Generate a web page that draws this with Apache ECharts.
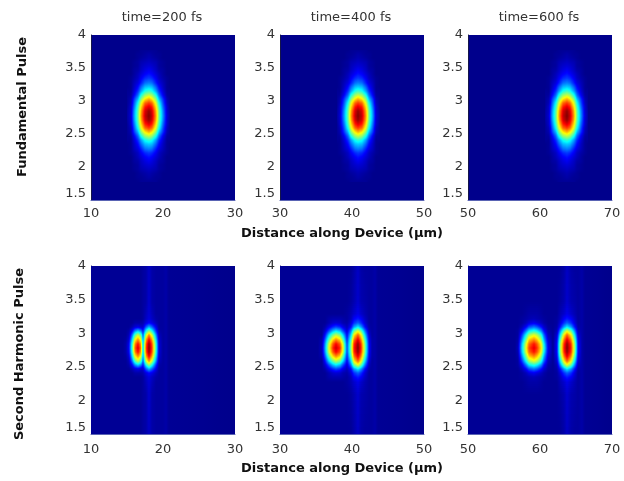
<!DOCTYPE html>
<html><head><meta charset="utf-8">
<style>html,body{margin:0;padding:0;background:#fff}#c{width:624px;height:481px}</style>
<script src="https://cdn.jsdelivr.net/npm/echarts@6/dist/echarts.min.js"></script>
</head><body><div id="c"></div>
<script>
const panelTitles = ['time=200 fs','time=400 fs','time=600 fs'];
const xLimits = [[10,30],[30,50],[50,70]];
const yTicks = [1.5,2,2.5,3,3.5,4];
const rowLabels = ['Fundamental Pulse','Second Harmonic Pulse'];
const xAxisLabel = 'Distance along Device (\u00b5m)';

// Jet colour scale, evenly spaced from 0 to 100
const jetStops = ['#00008c','#0000ff','#0080ff','#00ffff','#80ff80','#ffff00','#ff8000','#ff0000','#800000'];

// Fundamental pulse: intensity (0-100), same blob in all three panels
const fundamentalCentres = [18, 40.9, 63.7];
const fundamentalOffsets = [-3,-2.5,-2,-1.5,-1,-0.5,0,0.5,1,1.5,2,2.5,3];
const fundamentalYs = [1.78,1.8425,1.905,1.9675,2.03,2.0925,2.155,2.2175,2.28,2.3425,2.405,2.4675,2.53,2.5925,2.655,2.7175,2.78,2.8425,2.905,2.9675,3.03,3.0925,3.155,3.2175,3.28,3.3425,3.405,3.4675,3.53,3.5925,3.655,3.7175,3.78];
const fundamentalRows = [
[0,0,0,0,1,1,1,1,1,0,0,0,0],
[0,0,0,1,1,2,3,2,1,1,0,0,0],
[0,0,0,1,2,3,4,3,2,1,0,0,0],
[0,0,1,2,4,5,6,5,4,2,1,0,0],
[0,0,1,2,5,7,8,7,5,2,1,0,0],
[0,0,2,3,6,9,11,9,6,3,2,0,0],
[0,0,2,5,8,12,14,12,8,5,2,0,0],
[0,1,3,6,11,16,18,16,11,6,3,1,0],
[0,1,5,9,15,23,25,23,15,9,5,1,0],
[0,1,6,13,22,31,33,31,22,13,6,1,0],
[1,1,8,17,28,39,43,39,28,17,8,1,1],
[1,2,11,23,39,52,56,52,39,23,11,2,1],
[1,4,17,31,50,64,70,64,50,31,17,4,1],
[1,5,20,39,59,77,82,77,59,39,20,5,1],
[1,7,23,44,65,85,91,85,65,44,23,7,1],
[2,7,26,47,70,91,98,91,70,47,26,7,2],
[2,8,27,48,72,93,100,93,72,48,27,8,2],
[2,7,26,47,70,91,98,91,70,47,26,7,2],
[1,7,23,44,65,85,91,85,65,44,23,7,1],
[1,5,20,39,59,77,82,77,59,39,20,5,1],
[1,4,17,31,50,64,70,64,50,31,17,4,1],
[1,2,11,23,39,52,56,52,39,23,11,2,1],
[1,1,8,17,28,39,43,39,28,17,8,1,1],
[0,1,6,13,22,31,33,31,22,13,6,1,0],
[0,1,5,9,15,23,25,23,15,9,5,1,0],
[0,1,3,6,11,16,18,16,11,6,3,1,0],
[0,0,2,5,8,12,14,12,8,5,2,0,0],
[0,0,2,3,6,9,11,9,6,3,2,0,0],
[0,0,1,2,5,7,8,7,5,2,1,0,0],
[0,0,1,2,4,5,6,5,4,2,1,0,0],
[0,0,0,1,2,3,4,3,2,1,0,0,0],
[0,0,0,1,1,2,3,2,1,1,0,0,0],
[0,0,0,0,1,1,1,1,1,0,0,0,0]
];

// Second harmonic pulse: full-panel tables, y rows bottom to top
const harmonicYs = [1.5,2.1,2.28,2.3425,2.405,2.4675,2.53,2.5925,2.655,2.7175,2.78,2.8425,2.905,2.9675,3.03,3.0925,3.155,3.2175,3.28,3.46,4];
const harmonic200Xs = [10,14.5,14.9,15.3,15.7,16.1,16.5,16.9,17.25,17.65,18.05,18.5,19,19.5,20,20.4,20.8,30];
const harmonic200Rows = [
[1,1,1,1,1,1,1,1,2,3,6,3,2,2,2,3,1,0],
[1,1,1,1,1,1,1,1,2,3,7,3,2,2,2,3,1,0],
[1,1,1,1,1,1,1,1,2,5,8,5,2,2,2,3,1,0],
[1,1,1,1,1,1,1,1,2,6,9,6,3,2,2,3,1,0],
[1,1,1,1,1,3,3,3,4,9,13,10,5,2,2,3,1,0],
[1,1,1,1,4,8,10,7,7,21,30,22,10,2,2,3,1,0],
[1,1,1,3,11,26,33,25,14,38,52,39,17,3,2,3,1,0],
[1,1,1,5,22,46,57,45,21,56,74,58,27,5,2,3,1,0],
[1,1,2,8,33,63,75,61,27,71,90,73,36,7,2,3,1,0],
[1,1,3,11,40,74,87,71,31,78,98,80,41,8,2,3,1,0],
[1,1,3,12,42,78,92,75,32,80,100,82,42,8,2,3,1,0],
[1,1,3,11,40,74,87,71,31,78,98,80,41,8,2,3,1,0],
[1,1,2,8,33,63,75,61,27,71,90,73,36,7,2,3,1,0],
[1,1,1,5,22,46,57,45,21,56,74,58,27,5,2,3,1,0],
[1,1,1,3,11,26,33,25,14,38,52,39,17,3,2,3,1,0],
[1,1,1,1,4,8,10,7,7,21,30,22,10,2,2,3,1,0],
[1,1,1,1,1,3,3,3,4,9,13,10,5,2,2,3,1,0],
[1,1,1,1,1,1,1,1,2,6,9,6,3,2,2,3,1,0],
[1,1,1,1,1,1,1,1,2,5,8,5,2,2,2,3,1,0],
[1,1,1,1,1,1,1,1,2,3,7,3,2,2,2,3,1,0],
[1,1,1,1,1,1,1,1,2,3,6,3,2,2,2,3,1,0]
];
const harmonic400Xs = [30,35.3,35.8,36.3,36.8,37.3,37.8,38.3,38.8,39.3,39.8,40.3,40.8,41.3,41.8,42.3,42.8,43.2,43.6,50];
const harmonic400Rows = [
[1,1,1,1,1,1,1,1,1,1,1,3,6,3,2,2,2,3,1,0],
[1,1,1,1,1,1,1,1,1,1,2,4,7,4,3,2,2,3,1,0],
[1,1,1,1,1,1,1,1,1,2,4,7,10,7,4,2,2,3,1,0],
[1,1,1,1,3,4,4,4,3,2,5,12,15,12,6,2,2,3,1,0],
[1,1,1,1,4,7,8,7,4,3,8,17,22,17,8,2,2,3,1,0],
[1,1,1,3,10,16,19,16,10,5,13,28,36,28,13,3,2,3,1,0],
[1,1,1,7,20,31,36,31,20,8,24,48,60,48,24,5,2,3,1,0],
[1,1,1,13,34,49,56,49,34,12,34,64,78,64,34,8,2,3,1,0],
[1,1,4,21,48,67,75,67,48,16,44,76,91,76,44,11,3,3,1,0],
[1,1,5,26,58,79,88,79,58,19,49,83,98,83,49,13,3,3,1,0],
[1,1,6,28,61,84,93,84,61,20,50,85,100,85,50,13,3,3,1,0],
[1,1,5,26,58,79,88,79,58,19,49,83,98,83,49,13,3,3,1,0],
[1,1,4,21,48,67,75,67,48,16,44,76,91,76,44,11,3,3,1,0],
[1,1,1,13,34,49,56,49,34,12,34,64,78,64,34,8,2,3,1,0],
[1,1,1,7,20,31,36,31,20,8,24,48,60,48,24,5,2,3,1,0],
[1,1,1,3,10,16,19,16,10,5,13,28,36,28,13,3,2,3,1,0],
[1,1,1,1,4,7,8,7,4,3,8,17,22,17,8,2,2,3,1,0],
[1,1,1,1,3,4,4,4,3,2,5,12,15,12,6,2,2,3,1,0],
[1,1,1,1,1,1,1,1,1,2,4,7,10,7,4,2,2,3,1,0],
[1,1,1,1,1,1,1,1,1,1,2,4,7,4,3,2,2,3,1,0],
[1,1,1,1,1,1,1,1,1,1,1,3,6,3,2,2,2,3,1,0]
];
const harmonic600Xs = [50,56.5,57,57.5,58,58.5,59.1,59.6,60.1,60.6,61.1,61.8,62.3,62.8,63.3,63.8,64.3,64.8,65.3,65.9,66.3,70];
const harmonic600Rows = [
[1,1,1,1,1,1,1,1,1,1,1,1,1,1,3,6,3,2,2,3,1,0],
[1,1,1,1,1,1,1,1,1,1,1,1,1,2,4,7,4,3,2,3,1,0],
[1,1,1,1,2,3,3,3,2,1,1,1,1,4,7,10,7,4,2,3,1,0],
[1,1,1,2,3,4,5,4,3,2,1,1,2,5,12,15,12,6,2,3,1,0],
[1,1,1,2,5,9,11,9,6,3,1,1,2,8,17,22,17,8,2,3,1,0],
[1,1,1,5,12,20,24,21,14,7,2,1,3,13,28,36,28,13,3,3,1,0],
[1,1,2,10,24,36,41,37,27,13,3,1,5,24,48,60,48,24,5,3,1,0],
[1,1,2,18,38,53,60,55,42,22,5,1,8,34,64,78,64,34,8,3,1,0],
[1,1,3,26,50,68,75,69,54,30,8,1,11,44,76,91,76,44,11,3,1,0],
[1,1,4,32,58,77,86,79,63,37,10,1,13,49,83,98,83,49,13,3,1,0],
[1,1,5,34,61,81,90,83,66,40,11,1,13,50,85,100,85,50,13,3,1,0],
[1,1,4,32,58,77,86,79,63,37,10,1,13,49,83,98,83,49,13,3,1,0],
[1,1,3,26,50,68,75,69,54,30,8,1,11,44,76,91,76,44,11,3,1,0],
[1,1,2,18,38,53,60,55,42,22,5,1,8,34,64,78,64,34,8,3,1,0],
[1,1,2,10,24,36,41,37,27,13,3,1,5,24,48,60,48,24,5,3,1,0],
[1,1,1,5,12,20,24,21,14,7,2,1,3,13,28,36,28,13,3,3,1,0],
[1,1,1,2,5,9,11,9,6,3,1,1,2,8,17,22,17,8,2,3,1,0],
[1,1,1,2,3,4,5,4,3,2,1,1,2,5,12,15,12,6,2,3,1,0],
[1,1,1,1,2,3,3,3,2,1,1,1,1,4,7,10,7,4,2,3,1,0],
[1,1,1,1,1,1,1,1,1,1,1,1,1,2,4,7,4,3,2,3,1,0],
[1,1,1,1,1,1,1,1,1,1,1,1,1,1,3,6,3,2,2,3,1,0]
];

// Layout
const panelLefts = [91,280,468];
const panelWidth = 144;
const rowTops = [35,266];
const rowHeights = [165,168];
const tickFont = 'DejaVu Sans';
const tickSize = 13;
const labelFont = 'DejaVu Sans';

const jet = v => echarts.color.lerp(Math.min(1,Math.max(0,v/100)), jetStops);

// One shaded quad per pair of neighbouring samples, like MATLAB's interpolated shading
function cells(xs, ys, rows){
  const out = [];
  for(let j=0;j<rows.length-1;j++){
    for(let i=0;i<xs.length-1;i++){
      out.push([xs[i], xs[i+1], ys[j], ys[j+1], rows[j][i], rows[j][i+1], rows[j+1][i], rows[j+1][i+1]]);
    }
  }
  return out;
}
function renderCell(params, api){
  const a = api.coord([api.value(0), api.value(3)]);
  const b = api.coord([api.value(1), api.value(2)]);
  const x = Math.round(a[0]), top = Math.round(a[1]);
  const w = Math.round(b[0])-x, h = Math.round(b[1])-top;
  if(w<=0||h<=0) return null;
  const v = [4,5,6,7].map(k=>api.value(k));
  const n = Math.max(1,Math.min(h,6));
  const children = [];
  for(let s=0;s<n;s++){
    const y0 = top+Math.round(h*s/n), y1 = top+Math.round(h*(s+1)/n);
    const t = 1-(s+0.5)/n; // 1 at the upper sample row
    const left = v[0]+(v[2]-v[0])*t, right = v[1]+(v[3]-v[1])*t;
    const colorStops = [0,0.25,0.5,0.75,1].map(u=>({offset:u,color:jet(left+(right-left)*u)}));
    children.push({type:'rect',shape:{x,y:y0,width:w,height:y1-y0},
      style:{fill:{type:'linear',x:0,y:0,x2:1,y2:0,colorStops}},silent:true});
  }
  return {type:'group',children};
}

const panels = [];
fundamentalCentres.forEach((c,p)=>panels.push({row:0,col:p,
  data:cells(fundamentalOffsets.map(o=>c+o),fundamentalYs,fundamentalRows)}));
[[harmonic200Xs,harmonic200Rows],[harmonic400Xs,harmonic400Rows],[harmonic600Xs,harmonic600Rows]]
  .forEach(([xs,rows],p)=>panels.push({row:1,col:p,data:cells(xs,harmonicYs,rows)}));

const option = {animation:false,backgroundColor:'#fff',grid:[],xAxis:[],yAxis:[],series:[],graphic:[]};
const frame = '#5a64b4';
panels.forEach((pn,i)=>{
  option.grid.push({left:panelLefts[pn.col],top:rowTops[pn.row],width:panelWidth,height:rowHeights[pn.row],
    show:true,backgroundColor:jet(0),borderWidth:0});
  const [mn,mx] = xLimits[pn.col];
  option.xAxis.push({gridIndex:i,type:'value',min:mn,max:mx,interval:10,splitLine:{show:false},axisTick:{show:false},position:'bottom',
    axisLine:{lineStyle:{color:frame,width:1}},
    axisLabel:{color:'#333',fontFamily:tickFont,fontSize:tickSize,margin:pn.row?9:7,showMinLabel:true,showMaxLabel:true,hideOverlap:false}});
  option.yAxis.push({gridIndex:i,type:'value',min:1.5,max:4,interval:0.5,splitLine:{show:false},axisTick:{show:false},
    axisLine:{lineStyle:{color:'#15154a',width:1}},
    axisLabel:{color:'#333',fontFamily:tickFont,fontSize:tickSize,margin:5,verticalAlignMinLabel:'bottom',
      formatter:v=>yTicks.includes(v)?String(v):''}});
  option.series.push({type:'custom',coordinateSystem:'cartesian2d',xAxisIndex:i,yAxisIndex:i,
    renderItem:renderCell,data:pn.data,encode:{x:[0,1],y:[2,3]},silent:true,clip:true,progressive:0,z:1});
});
panelTitles.forEach((t,c)=>option.graphic.push({type:'text',silent:true,
  x:panelLefts[c]+panelWidth/2-1,y:18,style:{text:t,fill:'#333',font:'13px '+tickFont,textAlign:'center',textVerticalAlign:'middle'}}));
[234,469].forEach(y=>option.graphic.push({type:'text',silent:true,x:342,y,
  style:{text:xAxisLabel,fill:'#111',font:'bold 13px '+labelFont,textAlign:'center',textVerticalAlign:'middle'}}));
[[23,107],[20,354]].forEach(([x,y],r)=>option.graphic.push({type:'text',silent:true,x,y,rotation:Math.PI/2,
  style:{text:rowLabels[r],fill:'#111',font:'bold 13px '+labelFont,textAlign:'center',textVerticalAlign:'middle'}}));

echarts.init(document.getElementById('c'),null,{renderer:'canvas'}).setOption(option);
</script></body></html>
